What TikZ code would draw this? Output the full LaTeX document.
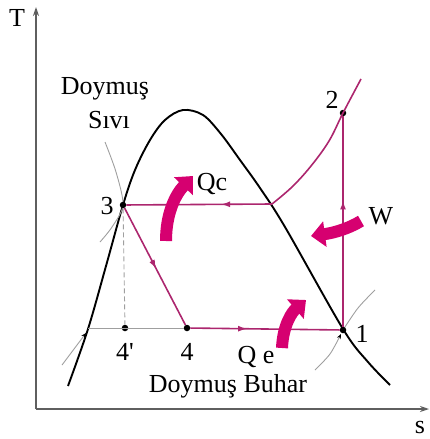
\documentclass[tikz,border=0pt]{standalone}
\usepackage{fontspec}
\setmainfont{Liberation Serif}
\usepackage{xcolor}
\usetikzlibrary{arrows.meta,decorations.markings}
\definecolor{cyclecol}{RGB}{172,38,110}
\definecolor{heatcol}{RGB}{214,0,112}
\definecolor{axiscol}{RGB}{95,95,95}
\tikzset{
  statedot/.style={circle,fill=black,inner sep=0pt,minimum size=6.5pt},
  lbl/.style={font=\fontsize{26}{30}\selectfont,inner sep=0pt},
  cyclepath/.style={cyclecol,line width=1.6pt},
  midarrow/.style={postaction={decorate},decoration={markings,
      mark=at position #1 with {\arrow{Latex[length=9pt,width=6pt]}}}},
  heatarrow/.style={heatcol,line width=12pt,-{Triangle[length=14pt,width=25pt]}},
  isoline/.style={gray!75,line width=0.9pt}
}
\begin{document}
\begin{tikzpicture}[x=1pt,y=-1pt]
\useasboundingbox (0,0) rectangle (429,439);

% axes
\coordinate (origin) at (36,409);
\coordinate (ttop) at (36,7);
\coordinate (sright) at (429,409);
\draw[axiscol,line width=1.3pt,-{Stealth[length=9pt,width=6pt]}] (origin) -- (ttop);
\draw[axiscol,line width=1.3pt,-{Stealth[length=9pt,width=6pt]}] (origin) -- (sright);
\node[lbl] (tlbl) at (17,18) {T};
\node[lbl] (slbl) at (420,427) {s};

% saturation dome
\draw[line width=1.9pt] plot[smooth,tension=0.55] coordinates {
  (68,386) (88,329) (106,266) (123,205) (135,170) (150,140) (165,120)
  (183,110) (203,115) (221,134) (240,160) (260,188) (285,227)
  (343,329) (368,362) (390,385)};

% iso lines
\draw[isoline] plot[smooth] coordinates {(105,142) (116,172) (123,205) (112,227) (100,242)};
\draw[isoline,-{Stealth[black,length=5pt,width=4pt]}] plot[smooth] coordinates {(62,365) (74,349) (86,333)};
\draw[isoline] plot[smooth] coordinates {(375,290) (358,308) (343,330)};
\draw[isoline,-{Stealth[black,length=5pt,width=4pt]}] plot[smooth] coordinates {(315,370) (330,354) (341,334)};

% states
\node[statedot] (p1) at (343,330) {};
\node[statedot] (p2) at (343,113) {};
\node[statedot] (p3) at (123,205) {};
\node[statedot] (p4) at (187,328) {};
\node[statedot] (p4s) at (125,328) {};
\coordinate (sat2) at (272,204);
\coordinate (liq4) at (88,328);

\draw[isoline] (liq4) -- (p4);
\draw[isoline,dashed,dash pattern=on 5pt off 3pt] (p3) -- (p4s);

% cycle
\draw[cyclepath] plot[smooth,tension=0.6] coordinates {(272,204) (292,187) (311,166) (329,141) (343,113) (361,79)};
\draw[cyclepath,midarrow=0.35] (sat2) -- (p3);
\draw[cyclepath,midarrow=0.52] (p3) -- (p4);
\draw[cyclepath,midarrow=0.38] (p4) -- (p1);
\draw[cyclepath,midarrow=0.6] (p1) -- (p2);

% heat and work
\draw[heatarrow] (166,241) .. controls (166,214) and (175,195) .. (193,176);
\draw[heatarrow] (361,221) .. controls (348,229) and (333,233) .. (311,236);
\draw[heatarrow] (282,348) .. controls (283,325) and (292,312) .. (306,300);

% labels
\node[lbl] (doy) at (105,89) {Doymuş};
\node[lbl] (siv) at (109,120) {Sıvı};
\node[lbl] (n2) at (332,100) {2};
\node[lbl] (n3) at (107,206) {3};
\node[lbl] (n1) at (362,334) {1};
\node[lbl] (n4s) at (125,352) {4\textquotesingle};
\node[lbl] (n4) at (187,352) {4};
\node[lbl] (qc) at (212,184) {Qc};
\node[lbl] (wl) at (381,216) {W};
\node[lbl] (qe) at (256,357) {Q e};
\node[lbl] (buh) at (228,386) {Doymuş Buhar};
\end{tikzpicture}
\end{document}
